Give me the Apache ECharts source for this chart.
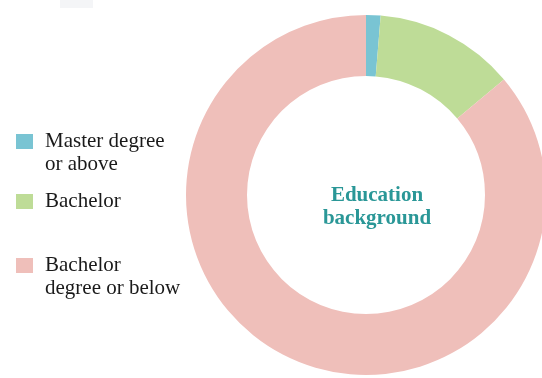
<!DOCTYPE html>
<html>
<head>
<meta charset="utf-8">
<script src="https://cdn.jsdelivr.net/npm/echarts@6/dist/echarts.min.js"></script>
<style>
  html, body { margin: 0; padding: 0; background: #ffffff; }
  #chart { width: 542px; height: 378px; }
</style>
</head>
<body>
<div id="chart"></div>
<script>
// Share of staff by highest education level (%)
const categories = ['Master degree\nor above', 'Bachelor', 'Bachelor\ndegree or below'];
const shares = [1.3, 12.6, 86.1];
const colors = ['#79c4d3', '#bedc97', '#efbfba'];
const centerTitle = 'Education\nbackground';

const chart = echarts.init(document.getElementById('chart'), null, { renderer: 'canvas' });

const serif = '"Liberation Serif", "DejaVu Serif", serif';
const lineH = 23;

// One legend block per category; multi-line names get a leading blank line
// so the icon lines up with the first line of text
const legendTops = [107, 190, 231];
const legends = categories.map((name, i) => ({
  show: true,
  orient: 'vertical',
  left: 16,
  top: legendTops[i],
  padding: 0,
  itemWidth: 17,
  itemHeight: 15,
  itemGap: 0,
  icon: 'rect',
  selectedMode: false,
  formatter: n => (n.indexOf('\n') >= 0 ? '\n' + n : n),
  textStyle: {
    fontFamily: serif,
    fontSize: 21,
    lineHeight: lineH,
    color: '#1a1a1a',
    padding: [0, 0, 0, 7]
  },
  data: [name]
}));

chart.setOption({
  animation: false,
  backgroundColor: '#ffffff',
  color: colors,
  legend: legends,
  graphic: [
    {
      type: 'rect',
      shape: { x: 60, y: 0, width: 33, height: 8 },
      style: { fill: '#f4f5f7' },
      silent: true
    },
    {
      type: 'text',
      x: 377,
      y: 207,
      style: {
        text: centerTitle,
        fontFamily: serif,
        fontWeight: 'bold',
        fontSize: 21,
        lineHeight: lineH,
        fill: '#2a9797',
        align: 'center',
        verticalAlign: 'middle'
      },
      silent: true
    }
  ],
  series: [{
    type: 'pie',
    center: [366, 195],
    radius: [119, 180],
    startAngle: 90,
    clockwise: true,
    silent: true,
    label: { show: false },
    labelLine: { show: false },
    emphasis: { disabled: true },
    itemStyle: { borderWidth: 0 },
    data: categories.map((name, i) => ({ name: name, value: shares[i] }))
  }]
});
</script>
</body>
</html>
